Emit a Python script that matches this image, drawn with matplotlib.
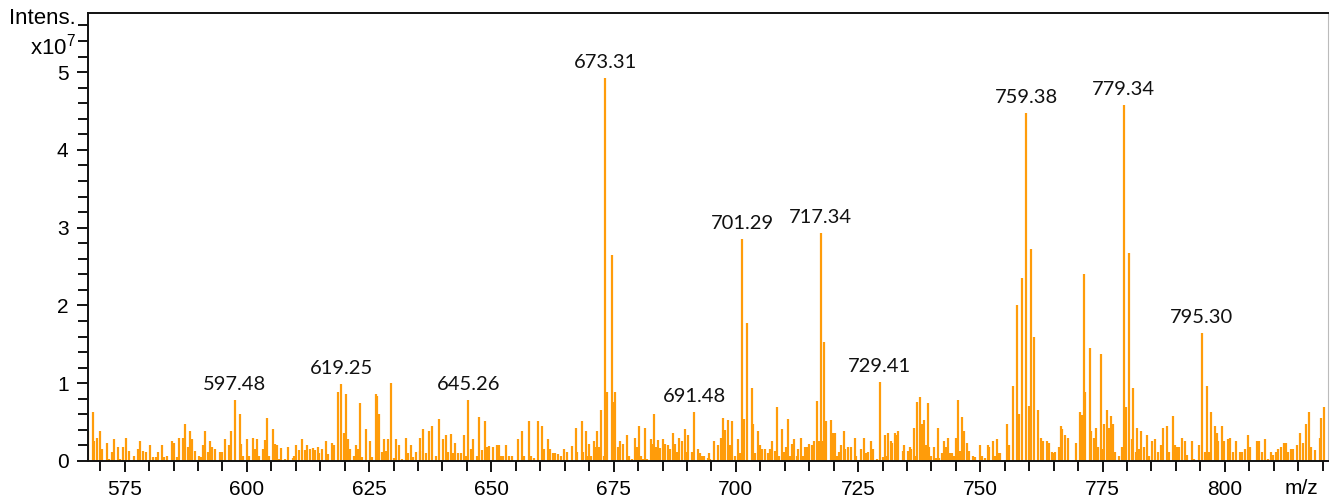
"""
Mass spectrum stick plot (m/z vs. intensity) with labelled peaks.
"""

import matplotlib
matplotlib.use("Agg")
import matplotlib.pyplot as plt
from matplotlib.ticker import MultipleLocator

# --- spectrum: m/z positions and intensities (x10^7) ---
mz = [
    567.6, 568.5, 568.8, 569.3, 570.0, 570.4, 571.3, 571.7, 572.5, 572.8,
    573.7, 574.0, 574.6, 575.3, 575.8, 577.0, 577.7, 578.2, 578.8, 579.4,
    580.1, 580.7, 581.4, 581.9, 582.6, 583.1, 583.7, 584.6, 585.0, 585.6,
    586.2, 587.0, 587.4, 587.9, 588.4, 588.8, 589.4, 590.1, 590.6, 591.1,
    591.5, 592.0, 592.5, 592.8, 593.5, 594.4, 594.9, 595.6, 596.3, 596.8,
    597.48, 598.5, 598.8, 599.3, 600.0, 600.5, 601.2, 601.6, 602.0, 602.5,
    603.2, 603.6, 604.1, 604.6, 605.3, 605.7, 606.1, 606.5, 607.0, 607.7,
    608.5, 609.4, 609.7, 610.0, 610.7, 611.3, 611.9, 612.2, 612.9, 613.5,
    614.0, 614.5, 614.8, 615.4, 616.2, 616.6,
    617.3, 617.8, 618.6, 619.25, 619.8, 620.3, 620.6, 621.1, 621.9, 622.3,
    622.7, 623.1, 623.5, 624.3, 625.2, 625.6, 626.3, 626.7, 627.1, 627.6,
    628.0, 628.4, 628.9, 629.5, 630.0, 630.4, 631.2, 631.7, 632.5, 633.0,
    633.5, 634.0, 634.5, 635.3, 635.5, 636.0, 636.6, 637.2, 637.9, 638.6,
    639.3, 640.2, 640.8, 641.2, 641.7, 642.2, 642.6, 643.1, 643.8, 644.5,
    644.8, 645.26, 645.9, 646.3, 647.0, 647.5, 648.0, 648.6, 649.0, 649.6,
    650.3, 651.1, 651.5, 651.9, 652.4, 652.9, 653.7, 654.2, 655.4, 656.3,
    656.7, 657.6, 658.2, 658.8, 659.5, 660.4, 660.8, 661.5, 662.0, 662.5,
    663.1, 663.7, 664.3, 664.9, 665.4, 666.5,
    667.3, 667.6, 668.5, 668.8, 669.3, 669.6, 670.0, 670.4, 670.9, 671.3,
    671.7, 672.0, 672.5, 673.0, 673.31, 673.7, 674.6, 674.8, 675.3, 675.8,
    676.4, 677.0, 677.7, 678.1, 678.8, 679.4, 679.8, 680.2, 680.5, 681.0,
    681.4, 681.9, 682.6, 683.0, 683.3, 683.6, 684.1, 684.5, 685.0, 685.5,
    686.2, 686.6, 687.1, 687.5, 687.9, 688.4, 688.9, 689.5, 689.9, 690.3,
    691.0, 691.48, 692.2, 692.6, 693.0, 693.4, 694.2, 694.5, 694.8, 695.6,
    696.3, 696.9, 697.4, 697.8, 698.3, 698.8, 699.2, 699.8, 700.5, 700.9,
    701.29, 701.7, 702.3, 703.2, 703.6, 704.0, 704.5, 704.9, 705.4, 706.0,
    706.5, 706.9, 707.3, 708.0, 708.5, 708.9, 709.4, 709.8, 710.2, 710.6,
    711.0, 711.4, 711.8, 712.4, 712.8, 713.3, 713.7, 714.1, 714.6, 715.0,
    715.5, 716.0, 716.5, 717.0, 717.34,
    717.7, 718.1, 718.4, 719.4, 719.8, 720.3, 720.7, 721.0, 721.5, 722.1,
    722.4, 722.9, 723.5, 724.3, 724.6, 725.5, 726.3, 726.7, 727.0, 727.6,
    728.1, 728.8, 729.41, 730.0, 730.4, 730.8, 731.2, 731.7, 732.0, 732.5,
    732.9, 733.2, 734.1, 734.4, 735.2, 735.6, 735.9, 736.5, 736.8, 737.1,
    737.6, 738.0, 738.5, 738.9, 739.2, 739.6, 740.0, 740.5, 740.9, 741.3,
    741.6, 742.1, 742.6, 742.9, 743.4, 743.8, 744.3, 744.7, 745.0, 745.4,
    745.8, 746.3, 746.6, 747.2, 747.6, 748.4, 749.0, 749.9, 750.3, 750.9,
    751.5, 751.8, 752.6, 753.0, 753.5, 753.8, 754.1, 755.4, 755.9, 756.6,
    757.4, 757.9, 758.5, 759.38, 759.9, 760.3, 761.0, 761.85, 762.4, 762.9,
    763.6, 764.1, 764.6, 764.9, 765.3, 766.0, 766.4, 766.8, 767.3, 768.0,
    769.6, 770.3, 770.8, 771.1, 771.5, 772.4, 772.7, 773.2, 773.6, 774.1,
    774.6, 774.9, 775.2, 776.0, 776.3, 776.8, 777.2, 777.6, 778.4, 778.9,
    779.34, 779.7, 780.5, 781.0, 781.3, 781.8, 782.1, 782.5, 782.9, 783.4,
    784.0, 784.4, 785.2, 785.8, 786.3, 786.9, 787.4, 788.2, 788.6, 789.3,
    789.8, 790.2, 790.7, 791.3, 791.8, 792.3, 793.2, 793.6, 794.7, 795.30,
    795.9, 796.3, 796.8, 797.1, 797.9, 798.3, 798.6, 799.5, 799.8, 800.7,
    801.0, 801.6, 802.3, 803.2, 803.6, 804.2, 804.7, 805.2, 806.5, 807.0,
    807.7, 808.3, 808.8, 809.5, 809.9, 810.4, 810.9, 811.5, 812.0, 812.5,
    812.9, 813.5, 814.0, 814.8, 815.3, 816.0, 816.5, 817.2, 817.7, 818.4,
    819.4, 819.7, 820.2,
]

intensity = [
    0.38, 0.63, 0.26, 0.30, 0.38, 0.15, 0.23, 0.03, 0.11, 0.28,
    0.18, 0.02, 0.18, 0.30, 0.13, 0.07, 0.15, 0.26, 0.13, 0.11,
    0.20, 0.05, 0.05, 0.11, 0.20, 0.05, 0.07, 0.26, 0.23, 0.05,
    0.30, 0.30, 0.48, 0.18, 0.38, 0.28, 0.13, 0.07, 0.05, 0.20,
    0.38, 0.11, 0.26, 0.18, 0.15, 0.11, 0.11, 0.28, 0.20, 0.38,
    0.78, 0.61, 0.22, 0.07, 0.28, 0.07, 0.30, 0.16, 0.28, 0.07,
    0.15, 0.27, 0.55, 0.07, 0.41, 0.22, 0.20, 0.02, 0.17, 0.02,
    0.18, 0.04, 0.06, 0.20, 0.14, 0.28, 0.14, 0.20, 0.15, 0.17,
    0.14, 0.18, 0.10, 0.16, 0.26, 0.09,
    0.23, 0.21, 0.89, 0.99, 0.36, 0.86, 0.28, 0.15, 0.07, 0.21,
    0.15, 0.74, 0.05, 0.41, 0.26, 0.05, 0.86, 0.84, 0.60, 0.11,
    0.28, 0.13, 0.28, 1.00, 0.04, 0.28, 0.20, 0.02, 0.30, 0.10,
    0.20, 0.05, 0.11, 0.30, 0.13, 0.41, 0.10, 0.38, 0.45, 0.07,
    0.54, 0.28, 0.33, 0.12, 0.35, 0.10, 0.23, 0.10, 0.10, 0.33,
    0.06, 0.78, 0.15, 0.28, 0.06, 0.56, 0.14, 0.51, 0.18, 0.19,
    0.18, 0.20, 0.20, 0.07, 0.07, 0.20, 0.07, 0.06, 0.28, 0.39,
    0.06, 0.51, 0.06, 0.04, 0.51, 0.45, 0.15, 0.28, 0.16, 0.10,
    0.10, 0.09, 0.06, 0.15, 0.12, 0.19,
    0.43, 0.12, 0.51, 0.12, 0.38, 0.07, 0.22, 0.07, 0.26, 0.18,
    0.38, 0.18, 0.66, 0.07, 4.92, 0.89, 2.65, 0.76, 0.89, 0.18,
    0.26, 0.22, 0.33, 0.07, 0.02, 0.30, 0.18, 0.45, 0.07, 0.03,
    0.43, 0.02, 0.28, 0.22, 0.61, 0.18, 0.27, 0.17, 0.28, 0.22,
    0.20, 0.15, 0.36, 0.22, 0.12, 0.30, 0.26, 0.41, 0.12, 0.33,
    0.11, 0.63, 0.15, 0.10, 0.06, 0.07, 0.04, 0.10, 0.03, 0.26,
    0.20, 0.30, 0.55, 0.40, 0.53, 0.20, 0.51, 0.07, 0.28, 0.10,
    2.86, 0.54, 1.78, 0.94, 0.48, 0.10, 0.38, 0.20, 0.15, 0.15,
    0.10, 0.15, 0.26, 0.13, 0.69, 0.07, 0.41, 0.11, 0.18, 0.54,
    0.07, 0.22, 0.28, 0.07, 0.16, 0.30, 0.07, 0.18, 0.18, 0.22,
    0.21, 0.26, 0.77, 0.26, 2.93,
    0.26, 1.53, 0.51, 0.53, 0.36, 0.36, 0.07, 0.12, 0.20, 0.38,
    0.15, 0.18, 0.18, 0.30, 0.07, 0.15, 0.30, 0.10, 0.11, 0.26,
    0.16, 0.02, 1.01, 0.05, 0.33, 0.07, 0.36, 0.26, 0.23, 0.36,
    0.33, 0.38, 0.13, 0.20, 0.13, 0.18, 0.16, 0.43, 0.07, 0.76,
    0.82, 0.48, 0.53, 0.21, 0.74, 0.18, 0.07, 0.18, 0.04, 0.43,
    0.04, 0.10, 0.26, 0.18, 0.30, 0.10, 0.10, 0.06, 0.30, 0.78,
    0.13, 0.56, 0.38, 0.23, 0.13, 0.06, 0.05, 0.20, 0.07, 0.04,
    0.20, 0.18, 0.26, 0.07, 0.28, 0.10, 0.10, 0.48, 0.20, 0.97,
    2.00, 0.61, 2.35, 4.47, 0.71, 2.72, 1.60, 0.66, 0.30, 0.26,
    0.26, 0.23, 0.11, 0.10, 0.11, 0.18, 0.45, 0.41, 0.33, 0.30,
    0.23, 0.63, 0.59, 2.41, 0.89, 1.45, 0.38, 0.30, 0.43, 0.18,
    1.38, 0.15, 0.48, 0.66, 0.43, 0.58, 0.48, 0.11, 0.06, 0.18,
    4.58, 0.69, 2.67, 0.28, 0.94, 0.11, 0.43, 0.16, 0.38, 0.18,
    0.33, 0.06, 0.26, 0.28, 0.12, 0.21, 0.43, 0.45, 0.12, 0.58,
    0.21, 0.18, 0.18, 0.30, 0.26, 0.08, 0.26, 0.03, 0.21, 1.65,
    0.11, 0.97, 0.11, 0.63, 0.45, 0.36, 0.26, 0.45, 0.26, 0.28,
    0.30, 0.12, 0.26, 0.12, 0.12, 0.15, 0.33, 0.18, 0.26, 0.26,
    0.12, 0.28, 0.03, 0.12, 0.08, 0.12, 0.15, 0.18, 0.23, 0.23,
    0.12, 0.15, 0.15, 0.21, 0.36, 0.23, 0.48, 0.63, 0.18, 0.14,
    0.30, 0.55, 0.70,
]

# peaks that get an m/z annotation
peak_labels = [597.48, 619.25, 645.26, 673.31, 691.48, 701.29,
               717.34, 729.41, 759.38, 779.34, 795.30]

x_ticks = [575, 600, 625, 650, 675, 700, 725, 750, 775, 800]
y_ticks = [0, 1, 2, 3, 4, 5]

STICK_COLOR = "#ff9c0a"
AXIS_FONT = "Liberation Sans"
LABEL_FONT = "Lato"

W, H = 1330, 497
fig = plt.figure(figsize=(W / 100, H / 100), dpi=100)
ax = fig.add_axes([88 / W, 36 / H, 1240 / W, 448 / H])

ax.vlines(mz, 0, intensity, color=STICK_COLOR, linewidth=1.6)

for p in peak_labels:
    i = mz.index(p)
    ax.annotate(f"{p:.2f}", (mz[i], intensity[i]), xytext=(0, 5),
                textcoords="offset points", ha="center", va="bottom",
                fontsize=14.5, family=LABEL_FONT, color="#111111")

ax.set_xlim(567.5, 821.1)
ax.set_ylim(0, 5.76)

ax.set_xticks(x_ticks)
ax.set_yticks(y_ticks)
ax.xaxis.set_minor_locator(MultipleLocator(5))
ax.yaxis.set_minor_locator(MultipleLocator(0.2))
ax.tick_params(axis="both", which="major", direction="out", length=8,
               width=1.3, labelsize=15, pad=6)
ax.tick_params(axis="both", which="minor", direction="out", length=7,
               width=1.3)
for lab in ax.get_xticklabels() + ax.get_yticklabels():
    lab.set_family(AXIS_FONT)

for side in ("left", "bottom", "top"):
    ax.spines[side].set_linewidth(1.4)
    ax.spines[side].set_color("#111111")
ax.spines["right"].set_linewidth(0.8)
ax.spines["right"].set_color("#bbbbbb")

plt.rcParams["mathtext.default"] = "regular"
fig.text(76 / W, 1 - 19 / H, "Intens.", ha="right", va="center",
         fontsize=16, family=AXIS_FONT)
fig.text(76 / W, 1 - 47 / H, "x10$^{7}$", ha="right", va="center",
         fontsize=16, family=AXIS_FONT)
fig.text(1301 / W, 1 - 488 / H, "m/z", ha="center", va="center",
         fontsize=15, family=AXIS_FONT)

fig.savefig("out.png", dpi=100)
